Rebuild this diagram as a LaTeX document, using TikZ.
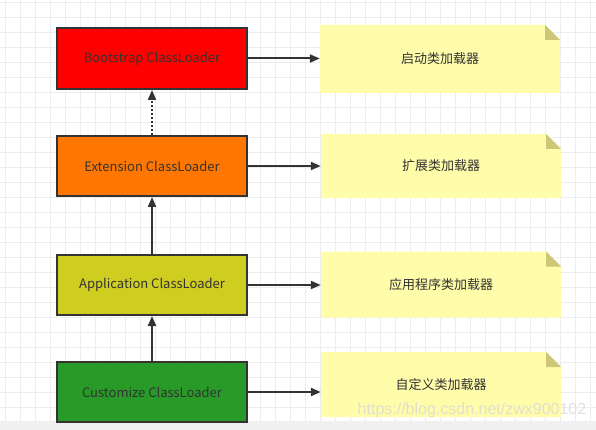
\documentclass[tikz,border=0pt]{standalone}
\usepackage{fontspec}
\setmainfont{Noto Sans CJK SC}
\newfontfamily\wmfont{Liberation Sans}
\usetikzlibrary{arrows.meta}

\definecolor{linegray}{HTML}{333333}
\definecolor{bootred}{HTML}{FF0000}
\definecolor{extorange}{HTML}{FF7700}
\definecolor{appolive}{HTML}{CFCD20}
\definecolor{custgreen}{HTML}{279A28}
\definecolor{notebg}{HTML}{FFFCAA}
\definecolor{notefold}{HTML}{CCC877}

\begin{document}
\begin{tikzpicture}[x=1pt,y=-1pt,
  loader/.style={draw=linegray, line width=2pt, minimum width=190pt, text=linegray, font=\fontsize{13}{15}\selectfont},
  note/.style={minimum width=240pt, text=linegray, font=\fontsize{13}{15}\selectfont,
    path picture={
      \fill[notebg] (path picture bounding box.south west) -- (path picture bounding box.north west)
        -- ([xshift=-15pt]path picture bounding box.north east) -- ([yshift=-15pt]path picture bounding box.north east)
        -- (path picture bounding box.south east) -- cycle;
      \fill[notefold] ([xshift=-15pt]path picture bounding box.north east) -- ([yshift=-15pt]path picture bounding box.north east)
        -- ([xshift=-15pt,yshift=-15pt]path picture bounding box.north east) -- cycle;}},
  link/.style={draw=linegray, line width=2pt, -{Triangle[length=10pt,width=8pt]}}]
\useasboundingbox (0,0) rectangle (596,430);

% grid
\foreach \gx in {0,...,39}{
  \pgfmathsetmacro\xx{5.5+15*\gx}
  \draw[line width=0.8pt, color=black!7] (\xx,0) -- (\xx,422);
}
\foreach \gy in {0,...,28}{
  \pgfmathsetmacro\yy{2+15*\gy}
  \draw[line width=0.8pt, color=black!7] (0,\yy) -- (596,\yy);
}
\fill[black!6] (0,421) rectangle (596,430);

% class loaders
\node[loader, fill=bootred, minimum height=61pt] (boot) at (152,58.5){Bootstrap ClassLoader};
\node[loader, fill=extorange, minimum height=60pt] (ext) at (152,166){Extension ClassLoader};
\node[loader, fill=appolive, minimum height=60pt] (app) at (152,285){Application ClassLoader};
\node[loader, fill=custgreen, minimum height=60pt] (cust) at (152,392){Customize ClassLoader};

% notes
\node[note, minimum height=68pt] (nboot) at (440,59){启动类加载器};
\node[note, minimum height=64pt] (next) at (441,166){扩展类加载器};
\node[note, minimum height=66pt] (napp) at (441,284.5){应用程序类加载器};
\node[note, minimum height=65pt] (ncust) at (441,384.5){自定义类加载器};

% parent delegation
\draw[link, dotted](ext) -- (boot);
\draw[link](app) -- (ext);
\draw[link](cust) -- (app);

% labels
\draw[link](boot) -- (boot.east -| nboot.west);
\draw[link](ext) -- (ext.east -| next.west);
\draw[link](app) -- (app.east -| napp.west);
\draw[link](cust) -- (cust.east -| ncust.west);

\node[font=\wmfont\fontsize{16}{18}\selectfont, text=black!15, opacity=0.8] (wm) at (472,410){https://blog.csdn.net/zwx900102};

\end{tikzpicture}
\end{document}
